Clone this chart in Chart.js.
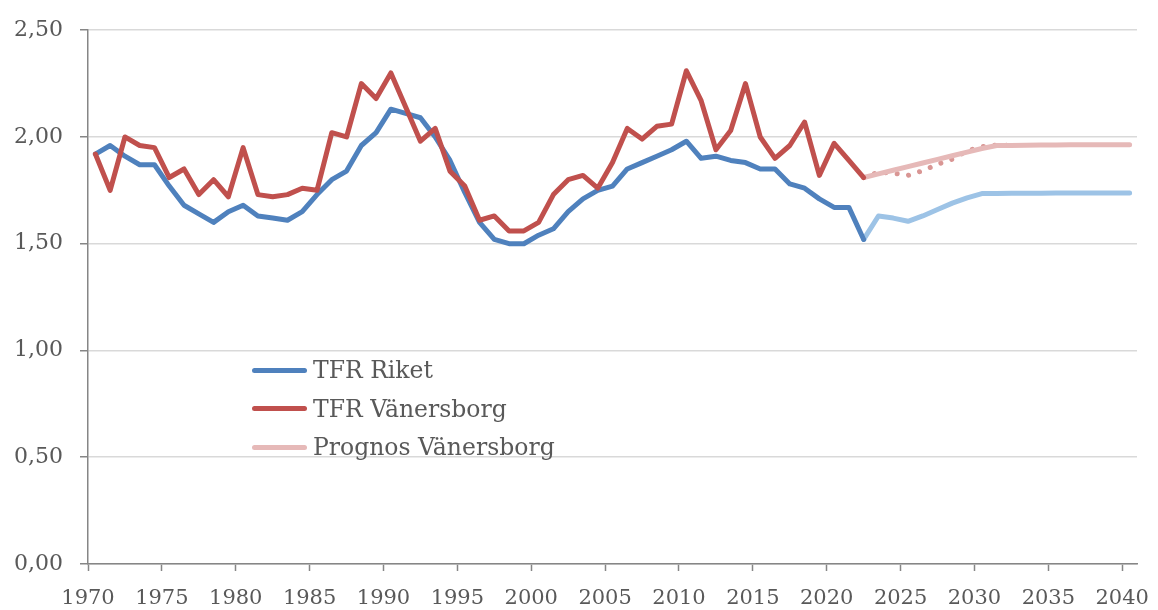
<!DOCTYPE html>
<html>
<head>
<meta charset="utf-8">
<script src="https://cdn.jsdelivr.net/npm/chart.js@4"></script>
<style>
  body { margin: 0; background: #fff; }
  #wrap { position: relative; width: 1158px; height: 610px; }
  #legend { position: absolute; left: 252px; top: 351px; font-family: "DejaVu Serif", serif; font-size: 23.5px; color: #595959; }
  .item { display: flex; align-items: center; height: 38.5px; }
  .swatch { width: 55px; height: 5px; border-radius: 3px; margin-right: 6px; }
</style>
</head>
<body>
<div id="wrap">
  <canvas id="tfrChart"></canvas>
  <div id="legend"></div>
</div>
<script>
// Utfall 1970-2022
const years = [1970, 1971, 1972, 1973, 1974, 1975, 1976, 1977, 1978, 1979,
               1980, 1981, 1982, 1983, 1984, 1985, 1986, 1987, 1988, 1989,
               1990, 1991, 1992, 1993, 1994, 1995, 1996, 1997, 1998, 1999,
               2000, 2001, 2002, 2003, 2004, 2005, 2006, 2007, 2008, 2009,
               2010, 2011, 2012, 2013, 2014, 2015, 2016, 2017, 2018, 2019,
               2020, 2021, 2022];
const tfrRiket = [1.92, 1.96, 1.91, 1.87, 1.87, 1.77, 1.68, 1.64, 1.60, 1.65,
                  1.68, 1.63, 1.62, 1.61, 1.65, 1.73, 1.80, 1.84, 1.96, 2.02,
                  2.13, 2.11, 2.09, 2.00, 1.89, 1.74, 1.60, 1.52, 1.50, 1.50,
                  1.54, 1.57, 1.65, 1.71, 1.75, 1.77, 1.85, 1.88, 1.91, 1.94,
                  1.98, 1.90, 1.91, 1.89, 1.88, 1.85, 1.85, 1.78, 1.76, 1.71,
                  1.67, 1.67, 1.52];
const tfrVanersborg = [1.92, 1.75, 2.00, 1.96, 1.95, 1.81, 1.85, 1.73, 1.80, 1.72,
                       1.95, 1.73, 1.72, 1.73, 1.76, 1.75, 2.02, 2.00, 2.25, 2.18,
                       2.30, 2.14, 1.98, 2.04, 1.84, 1.77, 1.61, 1.63, 1.56, 1.56,
                       1.60, 1.73, 1.80, 1.82, 1.76, 1.88, 2.04, 1.99, 2.05, 2.06,
                       2.31, 2.17, 1.94, 2.03, 2.25, 2.00, 1.90, 1.96, 2.07, 1.82,
                       1.97, 1.89, 1.81];

// Prognos 2022-2040
const forecastYears = [2022, 2023, 2024, 2025, 2026, 2027, 2028, 2029, 2030, 2031,
                       2032, 2033, 2034, 2035, 2036, 2037, 2038, 2039, 2040];
const prognosRiket = [1.52, 1.63, 1.62, 1.605, 1.63, 1.66, 1.69, 1.715, 1.735, 1.735,
                      1.736, 1.736, 1.736, 1.737, 1.737, 1.737, 1.737, 1.737, 1.737];
const prognosVanersborg = [1.81, 1.827, 1.844, 1.861, 1.878, 1.895, 1.912, 1.929, 1.946, 1.96,
                           1.96, 1.961, 1.962, 1.962, 1.963, 1.963, 1.963, 1.964, 1.964];
const prognosAlt = [1.81, 1.835, 1.83, 1.82, 1.842, 1.872, 1.896, 1.935, 1.955, 1.962, 1.961];

const xTickYears = [1970, 1975, 1980, 1985, 1990, 1995, 2000, 2005, 2010, 2015, 2020, 2025, 2030, 2035, 2040];

function pairs(xs, ys) {
    return ys.map((v, i) => ({ x: xs[i], y: v }));
}

const lineStyle = {
    borderWidth: 5,
    pointRadius: 0,
    pointHoverRadius: 0,
    tension: 0,
    borderJoinStyle: 'round',
    borderCapStyle: 'round',
    fill: false
};

const datasets = [{
    label: 'TFR Riket',
    data: pairs(years, tfrRiket),
    borderColor: '#4f81bd',
    order: 2,
    inLegend: true,
    ...lineStyle
}, {
    label: 'TFR Vänersborg',
    data: pairs(years, tfrVanersborg),
    borderColor: '#c0504d',
    order: 1,
    inLegend: true,
    ...lineStyle
}, {
    label: 'Prognos Vänersborg',
    data: pairs(forecastYears, prognosVanersborg),
    borderColor: '#e6b9b8',
    order: 3,
    inLegend: true,
    ...lineStyle
}, {
    label: 'Prognos Riket',
    data: pairs(forecastYears, prognosRiket),
    borderColor: '#9dc3e6',
    order: 3,
    ...lineStyle
}, {
    label: 'Prognos alt',
    data: pairs(forecastYears, prognosAlt),
    borderColor: '#d99694',
    order: 4,
    ...lineStyle,
    borderWidth: 5,
    borderDash: [0.01, 11.5]
}];

const serif = '"DejaVu Serif", serif';

const chart = new Chart(document.getElementById('tfrChart'), {
    type: 'line',
    data: { datasets: datasets },
    options: {
        responsive: true,
        maintainAspectRatio: false,
        animation: false,
        layout: { padding: { top: 27, right: 21, left: 0, bottom: 0 } },
        plugins: {
            legend: { display: false },
            tooltip: { enabled: false }
        },
        scales: {
            x: {
                type: 'linear',
                min: 1969.5,
                max: 2040.5,
                afterBuildTicks: function(scale) {
                    scale.ticks = xTickYears.map(y => ({ value: y - 0.5 }));
                },
                afterFit: function(scale) {
                    scale.height = 46;
                    scale.paddingLeft = 0;
                    scale.paddingRight = 0;
                },
                ticks: {
                    autoSkip: false,
                    maxRotation: 0,
                    padding: 15,
                    color: '#595959',
                    font: { family: serif, size: 21 },
                    callback: function(value) { return String(Math.round(value + 0.5)); }
                },
                grid: {
                    drawOnChartArea: false,
                    drawTicks: true,
                    tickLength: 7,
                    tickWidth: 1.5,
                    tickColor: '#868686'
                },
                border: { color: '#868686', width: 1.5 }
            },
            y: {
                min: 0,
                max: 2.5,
                afterFit: function(scale) { scale.width = 88; },
                ticks: {
                    stepSize: 0.5,
                    padding: 17,
                    color: '#595959',
                    font: { family: serif, size: 22 },
                    callback: function(value) { return value.toFixed(2).replace('.', ','); }
                },
                grid: {
                    color: '#d9d9d9',
                    lineWidth: 1.5,
                    tickLength: 8,
                    tickColor: '#868686',
                    tickWidth: 1.5
                },
                border: { color: '#868686', width: 1.5 }
            }
        }
    }
});

// Legend placed inside the plot, like the original
const legendEl = document.getElementById('legend');
chart.data.datasets.filter(ds => ds.inLegend).forEach(ds => {
    const item = document.createElement('div');
    item.className = 'item';
    item.innerHTML = '<span class="swatch" style="background:' + ds.borderColor + '"></span><span>' + ds.label + '</span>';
    legendEl.appendChild(item);
});
</script>
</body>
</html>
